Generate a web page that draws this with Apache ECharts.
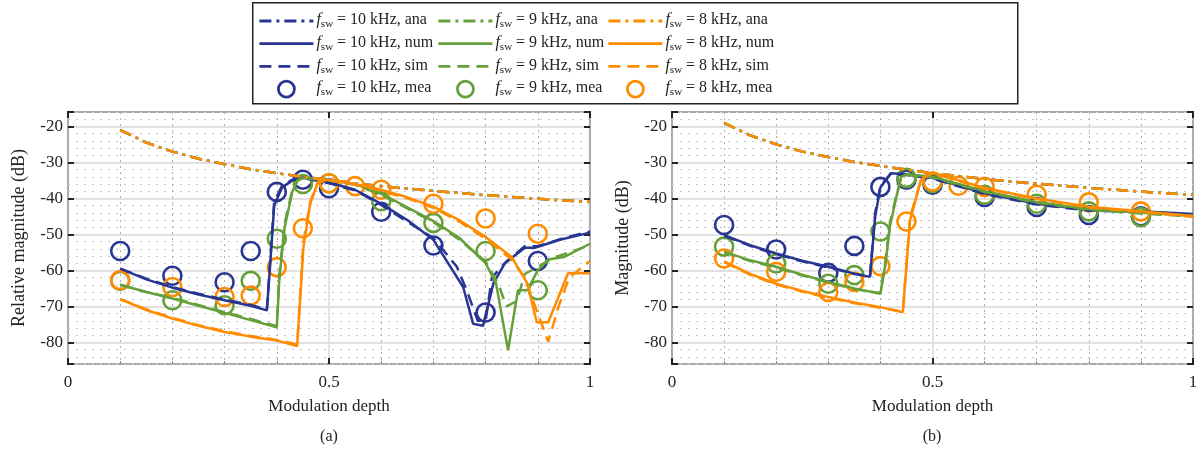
<!DOCTYPE html>
<html>
<head>
<meta charset="utf-8">
<script src="https://cdn.jsdelivr.net/npm/echarts@6/dist/echarts.min.js"></script>
<style>
  html, body { margin: 0; padding: 0; background: #fff; }
  #chart { width: 1202px; height: 450px; }
</style>
</head>
<body>
<div id="chart"></div>
<script>
// 数据
var anaDepth = [0.1, 0.15, 0.2, 0.25, 0.3, 0.35, 0.4, 0.45, 0.5, 0.55, 0.6, 0.65, 0.7, 0.75, 0.8, 0.85, 0.9, 0.95, 1];
var anaA = [-21, -24.5, -27, -29, -30.5, -31.9, -33, -34, -34.8, -35.8, -36.6, -37.3, -37.9, -38.5, -39.1, -39.6, -40.1, -40.6, -41];
var anaB = [-19, -22.5, -25, -27, -28.5, -29.9, -31, -32, -33, -33.8, -34.6, -35.3, -35.9, -36.5, -37.1, -37.6, -38.1, -38.6, -39];

var num10A = [[0.1, -59.5], [0.15, -62.5], [0.2, -64.8], [0.25, -66.7], [0.3, -68.3], [0.35, -69.8], [0.381, -71.1], [0.387, -59], [0.395, -42], [0.41, -37], [0.43, -35], [0.45, -34.2], [0.5, -35.6], [0.55, -37.6], [0.6, -41.5], [0.65, -46], [0.7, -51.5], [0.757, -64.6], [0.776, -74.8], [0.795, -75.4], [0.815, -63.6], [0.837, -58], [0.875, -53.7], [0.894, -53.7], [0.944, -51.4], [1, -49.5]];
var sim10A = [[0.1, -59.5], [0.15, -62.3], [0.2, -64.6], [0.25, -66.5], [0.3, -68.1], [0.35, -69.6], [0.381, -70.8], [0.387, -58], [0.395, -41], [0.41, -36.5], [0.43, -34.8], [0.45, -34.3], [0.5, -35.8], [0.55, -37.8], [0.6, -41.8], [0.65, -46.5], [0.7, -51], [0.745, -59], [0.765, -66], [0.785, -74], [0.8, -74], [0.812, -62], [0.84, -57.5], [0.875, -53.3], [0.9, -53.3], [0.95, -51], [1, -49.2]];
var num9A = [[0.1, -64], [0.15, -66], [0.2, -67.8], [0.25, -69.8], [0.3, -71.8], [0.35, -73.8], [0.4, -75.8], [0.405, -62], [0.415, -48], [0.43, -38], [0.44, -35], [0.45, -34.3], [0.5, -34.8], [0.55, -36], [0.6, -38.7], [0.65, -42.5], [0.7, -46.3], [0.75, -51], [0.8, -58], [0.82, -63.6], [0.843, -82.2], [0.862, -65.5], [0.88, -65.5], [0.9, -60], [0.92, -57], [0.95, -56.3], [1, -52.6]];
var sim9A = [[0.1, -64], [0.15, -66], [0.2, -67.6], [0.25, -69.6], [0.3, -71.6], [0.35, -73.5], [0.4, -75.5], [0.405, -61], [0.415, -47], [0.43, -37.5], [0.44, -35], [0.45, -34.4], [0.5, -35], [0.55, -36.2], [0.6, -39], [0.65, -42.8], [0.7, -46.6], [0.75, -51.5], [0.8, -57.5], [0.825, -64], [0.84, -70], [0.86, -68.5], [0.875, -61], [0.9, -59], [0.93, -56.5], [0.96, -55], [1, -53]];
var num8A = [[0.1, -68], [0.15, -71], [0.2, -73.4], [0.25, -75.4], [0.3, -77.1], [0.35, -78.4], [0.4, -79.5], [0.439, -81], [0.451, -53.6], [0.464, -41.5], [0.479, -35.3], [0.5, -34.8], [0.55, -36], [0.6, -37.6], [0.65, -39.7], [0.7, -42.3], [0.75, -46.1], [0.8, -50.7], [0.85, -56.3], [0.88, -63.6], [0.898, -74.4], [0.92, -74.4], [0.958, -60.8], [1, -60.8]];
var sim8A = [[0.1, -68], [0.15, -70.8], [0.2, -73.2], [0.25, -75.2], [0.3, -76.9], [0.35, -78.2], [0.4, -79.3], [0.439, -80.6], [0.451, -52], [0.464, -41], [0.479, -35.5], [0.5, -35], [0.55, -36.2], [0.6, -37.9], [0.65, -40], [0.7, -42.6], [0.75, -46.5], [0.8, -51.2], [0.85, -57], [0.875, -62], [0.895, -70], [0.92, -79.8], [0.94, -70], [0.96, -62], [1, -57.4]];

var num10B = [[0.1, -50.2], [0.15, -53], [0.2, -55.3], [0.25, -57.3], [0.3, -59], [0.35, -60.9], [0.38, -61.8], [0.39, -45], [0.4, -37], [0.42, -33], [0.45, -33.3], [0.5, -34.3], [0.6, -38.6], [0.7, -41.5], [0.8, -43.2], [0.9, -43.6], [1, -44.3]];
var sim10B = [[0.1, -50.4], [0.15, -53.2], [0.2, -55.5], [0.25, -57.5], [0.3, -59.2], [0.35, -61], [0.38, -61.6], [0.39, -44], [0.4, -36.5], [0.42, -33.2], [0.45, -33.5], [0.5, -34.5], [0.6, -38.8], [0.7, -41.7], [0.8, -43.4], [0.9, -43.8], [1, -44.5]];
var num9B = [[0.1, -54.8], [0.15, -57.2], [0.2, -59], [0.25, -61.2], [0.3, -63.2], [0.35, -65], [0.4, -66.5], [0.41, -58], [0.418, -48], [0.43, -40], [0.44, -34], [0.45, -33.3], [0.5, -34], [0.6, -38], [0.7, -41], [0.8, -43], [0.9, -44], [1, -44.8]];
var sim9B = [[0.1, -55], [0.15, -57.4], [0.2, -59.2], [0.25, -61.4], [0.3, -63.4], [0.35, -65.2], [0.4, -66.3], [0.41, -57], [0.418, -47], [0.43, -39.5], [0.44, -34.2], [0.45, -33.5], [0.5, -34.2], [0.6, -38.2], [0.7, -41.2], [0.8, -43.2], [0.9, -44.2], [1, -45]];
var num8B = [[0.1, -57.5], [0.15, -61], [0.2, -63.7], [0.25, -65.7], [0.3, -67.4], [0.35, -68.9], [0.4, -70.2], [0.443, -71.6], [0.457, -46], [0.466, -41.3], [0.478, -34.8], [0.5, -32.8], [0.6, -37.1], [0.7, -40], [0.8, -42.3], [0.9, -43.6], [1, -44.9]];
var sim8B = [[0.1, -57.7], [0.15, -61.2], [0.2, -63.9], [0.25, -65.9], [0.3, -67.6], [0.35, -69.1], [0.4, -70.4], [0.443, -71.4], [0.457, -45], [0.466, -40.8], [0.478, -34.6], [0.5, -33], [0.6, -37.3], [0.7, -40.2], [0.8, -42.5], [0.9, -43.8], [1, -45.1]];

var meaDepth = [0.1, 0.2, 0.3, 0.35, 0.4, 0.45, 0.5, 0.55, 0.6, 0.7, 0.8, 0.9];
var mea10A = [-54.6, -61.5, -63.3, -54.6, -38.2, -34.8, -37.2, null, -43.7, -53.1, -71.7, -57.4];
var mea9A = [-62.9, -68.3, -69.7, -62.9, -51.2, -36, -35.8, null, -40.8, -46.8, -54.6, -65.5];
var mea8A = [-62.7, -64.6, -67.4, -67, -59.1, -48.3, -35.8, -36.6, -37.6, -41.5, -45.6, -49.8];
var mea10B = [-47.4, -54.2, -60.7, -53.2, -36.8, -34.8, -36.2, null, -39.6, -42.4, -44.6, -45];
var mea9B = [-53.4, -58.1, -63.7, -61.3, -49.2, -34.3, -35.7, null, -39, -41.5, -43.6, -45.2];
var mea8B = [-56.7, -60.4, -66, -63.2, -58.8, -46.4, -35.3, -36.5, -36.8, -39, -41.1, -43.6];

var freqs = ['10 kHz', '9 kHz', '8 kHz'];
var colors = ['#283593', '#66a03a', '#ff8c00'];
var yTitles = ['Relative magnitude (dB)', 'Magnitude (dB)'];
var panelTags = ['(a)', '(b)'];

(function(window, undefined) {
  var FONT = 'Liberation Serif';
  var FRAME = '#222';

  var chart = echarts.init(document.getElementById('chart'), null, { renderer: 'canvas' });

  function fnZip(xs, ys) {
    var out = [];
    for (var i = 0; i < xs.length; i++) {
      if (ys[i] !== null) out.push([xs[i], ys[i]]);
    }
    return out;
  }

  var panels = [
    { ana: anaA, num: [num10A, num9A, num8A], sim: [sim10A, sim9A, sim8A], mea: [mea10A, mea9A, mea8A] },
    { ana: anaB, num: [num10B, num9B, num8B], sim: [sim10B, sim9B, sim8B], mea: [mea10B, mea9B, mea8B] }
  ];

  var grids = [
    { left: 68, right: 612, top: 112, bottom: 86 },
    { left: 672, right: 9, top: 112, bottom: 86 }
  ];

  var xAxes = [], yAxes = [], series = [];

  grids.forEach(function(g, gi) {
    g.show = true;
    g.borderColor = FRAME;
    g.borderWidth = 2;
    g.backgroundColor = '#fff';

    // 下轴: 标签 + 0.1 点线
    xAxes.push({
      type: 'value', gridIndex: gi, position: 'bottom', min: 0, max: 1, interval: 0.5,
      axisLine: { show: false },
      axisTick: { inside: true, length: 6, lineStyle: { color: FRAME, width: 2 } },
      minorTick: { show: true, splitNumber: 5, length: 3, lineStyle: { color: '#888', width: 1 } },
      minorSplitLine: { show: true, lineStyle: { color: '#b0b0b0', type: [2, 4], width: 1 } },
      splitLine: { show: true, lineStyle: { color: '#d9d9d9', width: 1.5 } },
      axisLabel: { color: '#222', fontFamily: FONT, fontSize: 17, margin: 10 },
      name: 'Modulation depth', nameLocation: 'middle', nameGap: 34,
      nameTextStyle: { color: '#222', fontFamily: FONT, fontSize: 17 }
    });
    // 上轴: 只有刻度
    xAxes.push({
      type: 'value', gridIndex: gi, position: 'top', min: 0, max: 1, interval: 0.5,
      axisLine: { show: false }, axisLabel: { show: false }, splitLine: { show: false },
      axisTick: { inside: true, length: 6, lineStyle: { color: FRAME, width: 2 } }
    });

    // 2 dB 点线
    yAxes.push({
      type: 'value', gridIndex: gi, position: 'left', min: -86, max: -16, interval: 2,
      axisLine: { show: false }, axisTick: { show: false }, axisLabel: { show: false },
      splitLine: { show: true, lineStyle: { color: '#c4c4c4', type: [2, 6], width: 1.2 } }
    });
    // 左轴: 标签 + 10 dB 实线
    yAxes.push({
      type: 'value', gridIndex: gi, position: 'left', min: -86, max: -16, splitNumber: 7,
      axisLine: { show: false },
      axisTick: { inside: true, length: 6, lineStyle: { color: FRAME, width: 2 } },
      splitLine: { show: true, lineStyle: { color: '#d9d9d9', width: 1.5 } },
      axisLabel: {
        color: '#222', fontFamily: FONT, fontSize: 17, margin: 5,
        formatter: function(v) { return v % 10 === 0 ? String(v) : ''; }
      },
      name: yTitles[gi], nameLocation: 'middle', nameGap: 40,
      nameTextStyle: { color: '#222', fontFamily: FONT, fontSize: 18 }
    });
    // 右轴: 只有刻度
    yAxes.push({
      type: 'value', gridIndex: gi, position: 'right', min: -86, max: -16, splitNumber: 7,
      axisLine: { show: false }, axisLabel: { show: false }, splitLine: { show: false },
      axisTick: { inside: true, length: 6, lineStyle: { color: FRAME, width: 2 } }
    });

    var p = panels[gi];
    freqs.forEach(function(f, k) {
      var c = colors[k];
      var base = { xAxisIndex: gi * 2, yAxisIndex: gi * 3 + 1, animation: false };
      series.push(Object.assign({}, base, {
        name: f + ', ana', type: 'line', symbol: 'none', color: c,
        data: fnZip(anaDepth, p.ana),
        lineStyle: { color: c, width: 2.5, type: [12, 5, 3, 5] }
      }));
      series.push(Object.assign({}, base, {
        name: f + ', num', type: 'line', symbol: 'none', color: c,
        data: p.num[k],
        lineStyle: { color: c, width: 2.5, type: 'solid' }
      }));
      series.push(Object.assign({}, base, {
        name: f + ', sim', type: 'line', symbol: 'none', color: c,
        data: p.sim[k],
        lineStyle: { color: c, width: 2.5, type: [12, 7] }
      }));
      series.push(Object.assign({}, base, {
        name: f + ', mea', type: 'scatter', symbol: 'circle', symbolSize: 18, color: c,
        data: fnZip(meaDepth, p.mea[k]),
        itemStyle: { color: 'rgba(0,0,0,0)', borderColor: c, borderWidth: 2.6, opacity: 1 }
      }));
    });
  });

  // 图例: 三列
  var legendLefts = [253, 432, 602];
  var hideDot = { opacity: 0 };
  var legends = freqs.map(function(f, k) {
    return {
      orient: 'vertical', left: legendLefts[k], top: 6,
      itemWidth: 54, itemHeight: 16, itemGap: 3.7,
      selectedMode: false,
      lineStyle: { width: 2.8 },
      data: [
        { name: f + ', ana', itemStyle: hideDot },
        { name: f + ', num', itemStyle: hideDot },
        { name: f + ', sim', itemStyle: hideDot },
        { name: f + ', mea', icon: 'circle', itemStyle: { color: 'rgba(0,0,0,0)', borderColor: colors[k], borderWidth: 2.8, opacity: 1 } }
      ],
      formatter: function(name) { return '{i|f}{s|sw}{t| = ' + name + '}'; },
      textStyle: {
        color: '#222', padding: [0, 0, 0, -2],
        rich: {
          i: { fontFamily: FONT, fontStyle: 'italic', fontSize: 16, lineHeight: 18, verticalAlign: 'top' },
          s: { fontFamily: FONT, fontSize: 11, lineHeight: 12, padding: [8, 0, 0, 0], verticalAlign: 'bottom' },
          t: { fontFamily: FONT, fontSize: 16, lineHeight: 18, verticalAlign: 'top' }
        }
      }
    };
  });

  var graphics = [
    {
      type: 'rect', left: 252, top: 2, z: -1,
      shape: { width: 765, height: 101 },
      style: { fill: '#fff', stroke: FRAME, lineWidth: 1.5 }
    }
  ];
  var tagCenters = [329, 932];
  panelTags.forEach(function(t, i) {
    graphics.push({
      type: 'text', x: tagCenters[i], y: 437,
      style: { text: t, fill: '#222', font: '16px "' + FONT + '"', align: 'center', verticalAlign: 'middle' }
    });
  });

  chart.setOption({
    backgroundColor: '#fff',
    animation: false,
    grid: grids,
    xAxis: xAxes,
    yAxis: yAxes,
    legend: legends,
    graphic: graphics,
    series: series
  });
})(window);
</script>
</body>
</html>
